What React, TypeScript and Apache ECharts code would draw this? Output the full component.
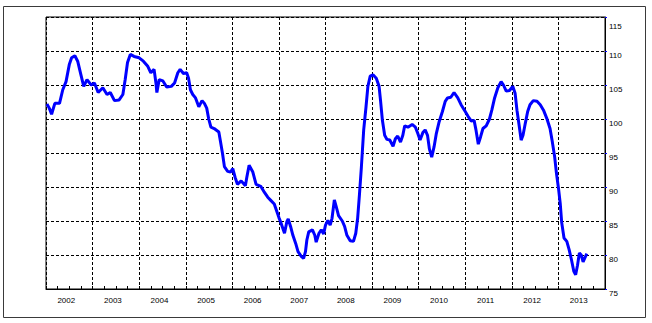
import { useEffect, useRef } from 'react';
import * as echarts from 'echarts';

const yearLabels = ['2002', '2003', '2004', '2005', '2006', '2007', '2008', '2009', '2010', '2011', '2012', '2013'];

const dates = [
  2002.02, 2002.07, 2002.12, 2002.19, 2002.29, 2002.36, 2002.43, 2002.5, 2002.55, 2002.62, 2002.68, 2002.75, 2002.81, 2002.88, 2002.97,
  2003.04, 2003.12, 2003.22, 2003.31, 2003.38, 2003.47, 2003.57, 2003.65, 2003.7, 2003.75, 2003.81, 2003.89,
  2004.0, 2004.09, 2004.18, 2004.25, 2004.32, 2004.36, 2004.38, 2004.43, 2004.51, 2004.59, 2004.69, 2004.76, 2004.83, 2004.88, 2004.95,
  2005.02, 2005.06, 2005.1, 2005.15, 2005.21, 2005.28, 2005.35, 2005.4, 2005.45, 2005.49, 2005.54, 2005.61, 2005.71, 2005.74, 2005.79, 2005.83, 2005.9, 2005.96,
  2006.01, 2006.06, 2006.11, 2006.19, 2006.28, 2006.31, 2006.36, 2006.44, 2006.51, 2006.61, 2006.69, 2006.76, 2006.83, 2006.9, 2006.95,
  2007.0, 2007.04, 2007.07, 2007.12, 2007.17, 2007.2, 2007.25, 2007.3, 2007.36, 2007.41, 2007.48, 2007.53, 2007.57, 2007.6, 2007.64, 2007.72, 2007.77, 2007.8, 2007.86, 2007.91, 2007.96,
  2008.0, 2008.05, 2008.1, 2008.14, 2008.19, 2008.23, 2008.28, 2008.36, 2008.41, 2008.46, 2008.53, 2008.6, 2008.65, 2008.69, 2008.73, 2008.77, 2008.82, 2008.87, 2008.91, 2008.96,
  2009.02, 2009.09, 2009.15, 2009.18, 2009.22, 2009.27, 2009.32, 2009.38, 2009.45, 2009.5, 2009.55, 2009.61, 2009.66, 2009.7, 2009.77, 2009.86, 2009.93, 2009.98,
  2010.03, 2010.09, 2010.14, 2010.19, 2010.23, 2010.28, 2010.33, 2010.38, 2010.44, 2010.51, 2010.57, 2010.62, 2010.69, 2010.76, 2010.84, 2010.91, 2010.99,
  2011.06, 2011.13, 2011.19, 2011.23, 2011.28, 2011.33, 2011.38, 2011.45, 2011.52, 2011.57, 2011.63, 2011.7, 2011.77, 2011.82, 2011.88, 2011.95,
  2012.02, 2012.07, 2012.11, 2012.16, 2012.2, 2012.24, 2012.29, 2012.34, 2012.39, 2012.46, 2012.54, 2012.61, 2012.68, 2012.75, 2012.82, 2012.87, 2012.92, 2012.96,
  2013.0, 2013.04, 2013.07, 2013.12, 2013.18, 2013.23, 2013.28, 2013.33, 2013.37, 2013.41, 2013.45, 2013.49, 2013.53, 2013.57, 2013.61,
];

const values = [
  102.2, 101.6, 100.7, 102.3, 102.3, 104.3, 105.5, 108.0, 109.0, 109.3, 108.5, 106.5, 104.8, 105.8, 105.0,
  105.3, 103.9, 104.6, 103.6, 103.9, 102.7, 102.8, 103.6, 105.8, 108.3, 109.5, 109.2,
  109.0, 108.5, 107.8, 106.8, 107.3, 105.3, 103.9, 105.8, 105.6, 104.7, 104.8, 105.3, 106.8, 107.3, 106.7,
  106.8, 106.0, 104.3, 103.6, 103.1, 101.8, 102.7, 102.3, 101.6, 100.1, 98.8, 98.6, 98.1, 96.9, 94.9, 93.0, 92.3, 92.2,
  92.7, 91.4, 90.4, 90.9, 90.2, 91.4, 93.2, 92.2, 90.4, 90.1, 89.2, 88.5, 88.0, 87.5, 86.5,
  85.5, 84.8, 84.2, 83.2, 84.9, 85.3, 84.2, 82.9, 81.7, 80.5, 79.8, 79.5, 80.5, 82.2, 83.4, 83.7, 82.9, 81.9, 83.2, 83.7, 83.1,
  84.4, 85.1, 84.4, 85.4, 88.1, 87.1, 85.8, 85.0, 84.2, 82.9, 82.1, 82.0, 83.2, 85.4, 89.0, 92.9, 98.4, 101.8, 104.8, 106.3,
  106.5, 106.0, 104.8, 102.8, 99.9, 97.6, 97.0, 96.9, 96.0, 97.1, 97.5, 96.6, 97.6, 99.0, 98.8, 99.2, 98.8, 97.9,
  96.9, 98.0, 98.4, 97.6, 95.6, 94.4, 95.9, 97.9, 99.6, 101.1, 102.6, 103.1, 103.2, 103.9, 103.1, 102.1, 101.2,
  100.4, 99.7, 99.8, 98.4, 96.3, 97.4, 98.6, 99.0, 100.0, 101.3, 103.1, 104.6, 105.5, 105.0, 104.1, 104.2,
  104.8, 103.8, 101.3, 98.9, 96.9, 97.6, 99.4, 101.1, 102.1, 102.7, 102.6, 102.1, 101.3, 100.1, 98.6, 96.6, 94.4, 91.9,
  89.9, 87.5, 84.8, 82.5, 82.0, 80.8, 79.3, 77.6, 77.1, 78.5, 80.3, 80.0, 79.0, 79.6, 80.2,
];

const FONT = '"Liberation Sans", Arial, sans-serif';

export default function App() {
  const ref = useRef<HTMLDivElement>(null);
  useEffect(() => {
    if (!ref.current) return;
    const chart = echarts.init(ref.current, undefined, { renderer: 'svg' });
    const seriesData = dates.map((d, i) => [d, values[i]]);
    chart.setOption({
      animation: false,
      backgroundColor: '#ffffff',
      grid: {
        left: 46,
        top: 17,
        width: 559,
        height: 272,
        show: true,
        borderColor: '#000000',
        borderWidth: 1,
        backgroundColor: 'transparent',
      },
      graphic: [
        {
          type: 'rect',
          shape: { x: 3.5, y: 6.5, width: 642, height: 311 },
          style: { fill: 'none', stroke: '#3a3a3a', lineWidth: 1 },
          silent: true,
        },
      ],
      xAxis: [
        {
          type: 'value',
          position: 'bottom',
          min: 2002,
          max: 2014,
          interval: 1,
          axisLine: { show: true, lineStyle: { color: '#000000', width: 1 } },
          axisTick: { show: true, inside: true, length: 3, lineStyle: { color: '#000000' } },
          minorTick: { show: true, splitNumber: 4, length: 3, lineStyle: { color: '#000000' } },
          axisLabel: { show: false },
          splitLine: { show: true, lineStyle: { color: '#000000', type: [3, 2], width: 1 } },
        },
        {
          type: 'category',
          position: 'bottom',
          data: yearLabels,
          boundaryGap: true,
          axisLine: { show: false },
          axisTick: { show: false },
          splitLine: { show: false },
          axisLabel: {
            show: true,
            interval: 0,
            color: '#000000',
            fontSize: 8,
            fontFamily: FONT,
            margin: 7,
            padding: [0, 6, 0, 0],
          },
        },
      ],
      yAxis: {
        type: 'value',
        position: 'right',
        min: 75,
        max: 115,
        interval: 5,
        axisLine: { show: true, lineStyle: { color: '#000000', width: 1 } },
        axisTick: { show: true, length: 2, lineStyle: { color: '#0000ff' } },
        splitLine: { show: true, lineStyle: { color: '#000000', type: [3, 2], width: 1 } },
        axisLabel: {
          show: true,
          color: '#000000',
          fontSize: 8,
          fontFamily: FONT,
          margin: 4,
          align: 'left',
          verticalAlign: 'top',
          formatter: (v: number) => (v === 115 ? '{t|115}' : String(v)),
          rich: {
            t: { fontSize: 8, fontFamily: FONT, color: '#000000', padding: [5, 0, 0, 0] },
          },
        },
      },
      series: [
        {
          type: 'line',
          xAxisIndex: 0,
          data: seriesData,
          showSymbol: false,
          symbol: 'none',
          smooth: false,
          lineStyle: { color: '#0000ff', width: 3 },
          z: 5,
        },
      ],
    });
    return () => chart.dispose();
  }, []);
  return (
    <div
      ref={ref}
      style={{ position: 'fixed', left: 0, top: 0, width: 652, height: 323, background: '#fff' }}
    />
  );
}
